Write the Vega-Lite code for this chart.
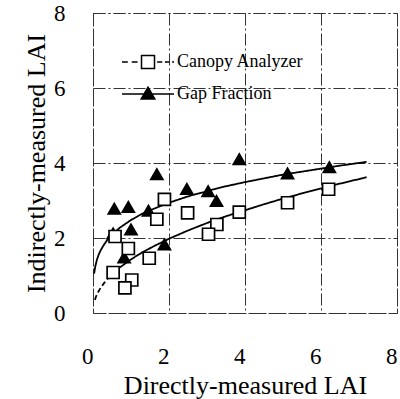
{
  "$schema": "https://vega.github.io/schema/vega-lite/v6.json",
  "width": 304,
  "height": 300,
  "autosize": {"type": "none"},
  "padding": {"left": 93, "top": 13, "right": 3, "bottom": 86},
  "background": "white",
  "config": {
    "view": {"stroke": "#333", "strokeWidth": 1, "strokeDash": [12, 3, 2, 3]},
    "font": "Liberation Serif",
    "axis": {
      "domain": false,
      "ticks": false,
      "tickSize": 0,
      "grid": true,
      "gridColor": "#333",
      "gridWidth": 1,
      "gridDash": [12, 3, 2, 3],
      "labelFlush": false,
      "labelFont": "Liberation Serif",
      "labelFontSize": 23,
      "labelColor": "black",
      "titleFont": "Liberation Serif",
      "titleFontSize": 26,
      "titleFontWeight": "normal",
      "titleColor": "black"
    },
    "legend": {
      "labelFont": "Liberation Serif",
      "labelFontSize": 18,
      "labelColor": "black"
    }
  },
  "datasets": {
    "points": [
      {"series": "Gap Fraction", "x": 3.85, "y": 4.1},
      {"series": "Gap Fraction", "x": 1.68, "y": 3.7},
      {"series": "Gap Fraction", "x": 5.12, "y": 3.72},
      {"series": "Gap Fraction", "x": 6.22, "y": 3.89},
      {"series": "Gap Fraction", "x": 2.47, "y": 3.31},
      {"series": "Gap Fraction", "x": 3.03, "y": 3.25},
      {"series": "Gap Fraction", "x": 3.25, "y": 2.99},
      {"series": "Gap Fraction", "x": 0.56, "y": 2.78},
      {"series": "Gap Fraction", "x": 0.93, "y": 2.83},
      {"series": "Gap Fraction", "x": 1.46, "y": 2.73},
      {"series": "Gap Fraction", "x": 1.0, "y": 2.23},
      {"series": "Gap Fraction", "x": 0.53, "y": 2.12},
      {"series": "Gap Fraction", "x": 1.88, "y": 1.83},
      {"series": "Gap Fraction", "x": 0.82, "y": 1.48},
      {"series": "Canopy Analyzer", "x": 1.88, "y": 3.03},
      {"series": "Canopy Analyzer", "x": 2.49, "y": 2.67},
      {"series": "Canopy Analyzer", "x": 1.68, "y": 2.5},
      {"series": "Canopy Analyzer", "x": 3.85, "y": 2.69},
      {"series": "Canopy Analyzer", "x": 5.12, "y": 2.94},
      {"series": "Canopy Analyzer", "x": 6.2, "y": 3.3},
      {"series": "Canopy Analyzer", "x": 3.26, "y": 2.36},
      {"series": "Canopy Analyzer", "x": 3.04, "y": 2.1},
      {"series": "Canopy Analyzer", "x": 0.58, "y": 2.04},
      {"series": "Canopy Analyzer", "x": 0.93, "y": 1.72},
      {"series": "Canopy Analyzer", "x": 1.48, "y": 1.46},
      {"series": "Canopy Analyzer", "x": 0.53, "y": 1.08},
      {"series": "Canopy Analyzer", "x": 1.02, "y": 0.88},
      {"series": "Canopy Analyzer", "x": 0.84, "y": 0.67}
    ],
    "curves": [
      {"curve": "Gap Fraction", "style": "solid", "x": 0.03, "y": 1.05},
      {"curve": "Gap Fraction", "style": "solid", "x": 0.06, "y": 1.24},
      {"curve": "Gap Fraction", "style": "solid", "x": 0.1, "y": 1.41},
      {"curve": "Gap Fraction", "style": "solid", "x": 0.15, "y": 1.56},
      {"curve": "Gap Fraction", "style": "solid", "x": 0.2, "y": 1.67},
      {"curve": "Gap Fraction", "style": "solid", "x": 0.3, "y": 1.84},
      {"curve": "Gap Fraction", "style": "solid", "x": 0.4, "y": 1.98},
      {"curve": "Gap Fraction", "style": "solid", "x": 0.5, "y": 2.09},
      {"curve": "Gap Fraction", "style": "solid", "x": 0.7, "y": 2.27},
      {"curve": "Gap Fraction", "style": "solid", "x": 1.0, "y": 2.48},
      {"curve": "Gap Fraction", "style": "solid", "x": 1.3, "y": 2.65},
      {"curve": "Gap Fraction", "style": "solid", "x": 1.6, "y": 2.78},
      {"curve": "Gap Fraction", "style": "solid", "x": 2.0, "y": 2.94},
      {"curve": "Gap Fraction", "style": "solid", "x": 2.5, "y": 3.11},
      {"curve": "Gap Fraction", "style": "solid", "x": 3.0, "y": 3.25},
      {"curve": "Gap Fraction", "style": "solid", "x": 3.5, "y": 3.38},
      {"curve": "Gap Fraction", "style": "solid", "x": 4.0, "y": 3.49},
      {"curve": "Gap Fraction", "style": "solid", "x": 4.5, "y": 3.59},
      {"curve": "Gap Fraction", "style": "solid", "x": 5.0, "y": 3.69},
      {"curve": "Gap Fraction", "style": "solid", "x": 5.5, "y": 3.77},
      {"curve": "Gap Fraction", "style": "solid", "x": 6.0, "y": 3.85},
      {"curve": "Gap Fraction", "style": "solid", "x": 6.5, "y": 3.93},
      {"curve": "Gap Fraction", "style": "solid", "x": 7.2, "y": 4.03},
      {"curve": "Canopy Analyzer", "style": "dashed", "x": 0.05, "y": 0.35},
      {"curve": "Canopy Analyzer", "style": "dashed", "x": 0.08, "y": 0.44},
      {"curve": "Canopy Analyzer", "style": "dashed", "x": 0.12, "y": 0.53},
      {"curve": "Canopy Analyzer", "style": "dashed", "x": 0.2, "y": 0.67},
      {"curve": "Canopy Analyzer", "style": "dashed", "x": 0.3, "y": 0.81},
      {"curve": "Canopy Analyzer", "style": "dashed", "x": 0.4, "y": 0.93},
      {"curve": "Canopy Analyzer", "style": "dashed", "x": 0.5, "y": 1.03},
      {"curve": "Canopy Analyzer", "style": "solid", "x": 0.5, "y": 1.03},
      {"curve": "Canopy Analyzer", "style": "solid", "x": 0.6, "y": 1.13},
      {"curve": "Canopy Analyzer", "style": "solid", "x": 0.7, "y": 1.21},
      {"curve": "Canopy Analyzer", "style": "solid", "x": 1.0, "y": 1.43},
      {"curve": "Canopy Analyzer", "style": "solid", "x": 1.3, "y": 1.62},
      {"curve": "Canopy Analyzer", "style": "solid", "x": 1.6, "y": 1.78},
      {"curve": "Canopy Analyzer", "style": "solid", "x": 2.0, "y": 1.98},
      {"curve": "Canopy Analyzer", "style": "solid", "x": 2.5, "y": 2.2},
      {"curve": "Canopy Analyzer", "style": "solid", "x": 3.0, "y": 2.4},
      {"curve": "Canopy Analyzer", "style": "solid", "x": 3.5, "y": 2.58},
      {"curve": "Canopy Analyzer", "style": "solid", "x": 4.0, "y": 2.74},
      {"curve": "Canopy Analyzer", "style": "solid", "x": 4.5, "y": 2.9},
      {"curve": "Canopy Analyzer", "style": "solid", "x": 5.0, "y": 3.05},
      {"curve": "Canopy Analyzer", "style": "solid", "x": 5.5, "y": 3.19},
      {"curve": "Canopy Analyzer", "style": "solid", "x": 6.0, "y": 3.32},
      {"curve": "Canopy Analyzer", "style": "solid", "x": 6.5, "y": 3.45},
      {"curve": "Canopy Analyzer", "style": "solid", "x": 7.2, "y": 3.62}
    ]
  },
  "encoding": {
    "x": {
      "field": "x", "type": "quantitative",
      "scale": {"domain": [0, 8], "nice": false, "zero": false},
      "axis": {
        "values": [0, 2, 4, 6, 8], "title": "Directly-measured LAI", "labelPadding": 32, "labelAlign": "right", "titlePadding": 4
      }
    },
    "y": {
      "field": "y", "type": "quantitative",
      "scale": {"domain": [0, 8], "nice": false, "zero": false},
      "axis": {
        "values": [0, 2, 4, 6, 8], "title": "Indirectly-measured LAI", "labelPadding": 28, "titlePadding": 4
      }
    }
  },
  "layer": [
    {
      "data": {"name": "curves"},
      "mark": {"type": "line", "color": "black", "strokeWidth": 1.8},
      "encoding": {
        "detail": {"field": "curve"},
        "strokeDash": {
          "field": "style", "type": "nominal",
          "scale": {"domain": ["dashed", "solid"], "range": [[5, 3], [1, 0]]},
          "legend": null
        }
      }
    },
    {
      "data": {"name": "points"},
      "mark": {"type": "point", "filled": true, "stroke": "black", "strokeWidth": 1.7, "opacity": 1},
      "encoding": {
        "shape": {
          "field": "series", "type": "nominal",
          "scale": {"domain": ["Canopy Analyzer", "Gap Fraction"], "range": ["square", "triangle-up"]},
          "legend": null
        },
        "fill": {
          "field": "series", "type": "nominal",
          "scale": {"domain": ["Canopy Analyzer", "Gap Fraction"], "range": ["white", "black"]},
          "legend": null
        },
        "size": {"value": 145}
      }
    },
    {
      "data": {"name": "points"},
      "transform": [{"filter": "datum.x < 0"}],
      "mark": {"type": "point", "filled": false, "fill": "black", "stroke": "black", "strokeWidth": 1.5, "opacity": 1},
      "encoding": {
        "shape": {
          "field": "series", "type": "nominal",
          "scale": {
            "domain": ["Canopy Analyzer", "Gap Fraction"],
            "range": [
              "M-4,0H-3.1M-2.5,0H-1.6M1.4,0H2.2M2.6,0H3.3M3.7,0H4M-1,-1H1V1H-1ZM-1,-1V1H1V-1Z",
              "M-4,0H4M0,-1.05L1.05,0.75H-1.05Z"
            ]
          },
          "legend": {
            "title": null,
            "orient": "none",
            "legendX": 46,
            "legendY": 40,
            "padding": 0,
            "symbolSize": 169,
            "symbolStrokeWidth": 1.5,
            "labelOffset": 20,
            "rowPadding": 12,
            "symbolOpacity": 1,
            "encode": {
              "symbols": {
                "stroke": {"value": "black"},
                "strokeWidth": {"value": 1.5},
                "fill": {"value": "black"},
                "strokeOpacity": {"value": 1},
                "fillOpacity": {"value": 1}
              }
            }
          }
        }
      }
    }
  ],
  "resolve": {"scale": {"shape": "independent"}, "legend": {"shape": "independent"}}
}
